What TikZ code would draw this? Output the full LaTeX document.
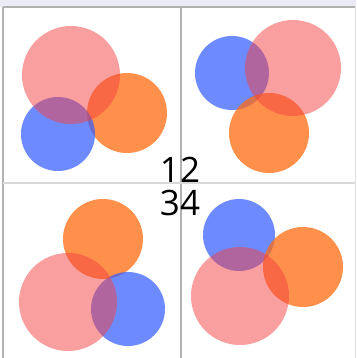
\documentclass[tikz,border=0pt]{standalone}
\usepackage{fontspec}
\setmainfont{Open Sans}
\usetikzlibrary{calc}

\definecolor{pinkc}{RGB}{245,65,65}
\definecolor{bluec}{RGB}{48,91,255}
\definecolor{orangec}{RGB}{255,108,15}
\definecolor{topband}{RGB}{235,235,245}

\begin{document}
\begin{tikzpicture}[
    x=1pt, y=-1pt,
    pinkdisc/.style={fill=pinkc, fill opacity=0.5},
    bluedisc/.style={fill=bluec, fill opacity=0.7},
    orangedisc/.style={fill=orangec, fill opacity=0.75},
    gridline/.style={line width=1.2pt, color=black!30},
    digits/.style={font=\fontsize{35}{38}\selectfont, anchor=base, inner sep=0pt}
]

    % Canvas and top band
    \useasboundingbox (0,0) rectangle (356,358);
    \fill[white] (0,0) rectangle (356,358);
    \fill[topband] (0,0) rectangle (356,7);

    % Panel 1 (top left)
    \fill[orangedisc] (127,113) circle (40);
    \fill[bluedisc] (58,134) circle (37);
    \fill[pinkdisc] (71,75) circle (49);

    % Panel 2 (top right)
    \fill[bluedisc] (232,73) circle (37);
    \fill[orangedisc] (269,133) circle (40);
    \fill[pinkdisc] (293,68) circle (48);

    % Panel 3 (bottom left)
    \fill[orangedisc] (103,239) circle (40);
    \fill[bluedisc] (128,309) circle (37);
    \fill[pinkdisc] (68,302) circle (49);

    % Panel 4 (bottom right)
    \fill[bluedisc] (239,235) circle (36);
    \fill[orangedisc] (303,267) circle (40);
    \fill[pinkdisc] (240,296) circle (49);

    % Frame and dividers
    \draw[gridline] (3,7) -- (355,7);
    \draw[gridline] (3,7) -- (3,358);
    \draw[line width=0.8pt, color=black!12] (355,7) -- (355,358);
    \draw[gridline] (181,7) -- (181,358);
    \draw[line width=1.2pt, color=black!15] (3,183) -- (355,183);

    % Panel numbers
    \node[digits] (top) at (180,182) {12};
    \node[digits] (bottom) at (180,215) {34};

\end{tikzpicture}
\end{document}
